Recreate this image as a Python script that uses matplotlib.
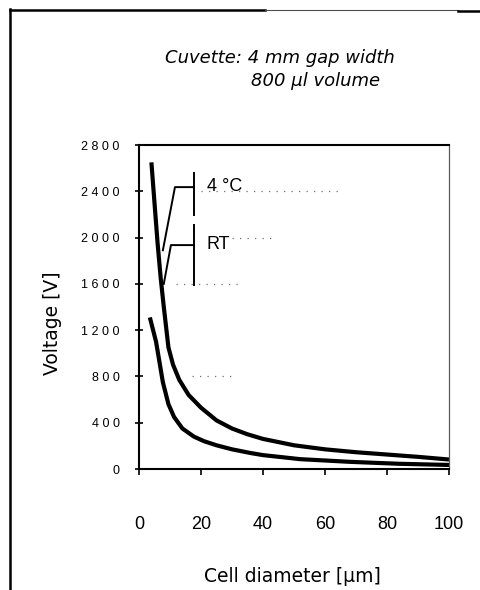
import matplotlib.pyplot as plt
from matplotlib.lines import Line2D
from matplotlib.ticker import FuncFormatter

# --- Datos ---
diam_4c = [4, 5, 6, 7, 8, 9.5, 11, 13, 16, 20, 25, 30, 35, 40, 50, 60, 70, 80, 90, 100]
volt_4c = [2650, 2300, 1950, 1650, 1400, 1050, 900, 770, 640, 530, 420, 350, 300, 260,
           205, 170, 145, 125, 105, 82]

diam_rt = [3.5, 5.5, 7.7, 9.5, 11.3, 14, 17.7, 21, 25, 30, 36, 40, 52, 68, 84, 100]
volt_rt = [1310, 1100, 750, 560, 450, 350, 280, 240, 205, 170, 138, 120, 85, 62, 45, 35]

x_ticks = [0, 20, 40, 60, 80, 100]
y_ticks = [0, 400, 800, 1200, 1600, 2000, 2400, 2800]

# etiquetas con su línea de referencia: (texto, y texto, barra y0, barra y1, codo x, codo y, punta x, punta y)
labels = [
    ("4 \u00b0C", 2440, 2195, 2560, 11.6, 2436, 7.7, 1890),
    ("RT", 1940, 1590, 2110, 10.3, 1935, 8.0, 1600),
]
bar_x = 17.7

# restos de la cuadrícula punteada del escaneo: (y, x0, x1)
dots = [(2400, 20, 65), (2000, 30, 43), (1600, 12, 33), (800, 17, 30)]

plt.rcParams['font.family'] = ['Liberation Sans', 'DejaVu Sans']
WIDE = ['DejaVu Sans']

fig = plt.figure(figsize=(4.81, 5.90), dpi=100)
ax = fig.add_axes([139 / 481, 1 - 469 / 590, 310 / 481, 324 / 590])

for y, x0, x1 in dots:
    ax.plot([x0, x1], [y, y], color='0.45', lw=0.9, ls=(0, (1, 5)))

ax.plot(diam_4c, volt_4c, color='black', lw=3.0, solid_capstyle='butt')
ax.plot(diam_rt, volt_rt, color='black', lw=3.0, solid_capstyle='butt')

for txt, ty, b0, b1, kx, ky, px, py in labels:
    ax.plot([bar_x, bar_x], [b0, b1], color='black', lw=1.4)
    ax.plot([px, kx, bar_x], [py, ky, ky], color='black', lw=1.4)
    ax.text(bar_x + 4.2, ty, txt, fontsize=13, va='center', ha='left')

ax.set_xlim(0, 100)
ax.set_ylim(0, 2800)
ax.set_xticks(x_ticks)
ax.set_yticks(y_ticks)
ax.yaxis.set_major_formatter(FuncFormatter(lambda v, p: " ".join(str(int(v)))))
ax.tick_params(axis='y', direction='inout', length=6, width=1.2, labelsize=9, pad=11)
ax.tick_params(axis='x', direction='out', length=4, width=1.2, labelsize=13, pad=30)

for side in ['left', 'bottom', 'top']:
    ax.spines[side].set_linewidth(1.5)
ax.spines['right'].set_linewidth(0.9)
ax.spines['right'].set_color('0.35')

ax.set_xlabel('Cell diameter [\u00b5m]', fontsize=13.5, family=WIDE)
ax.xaxis.label.set_va('center')
ax.xaxis.set_label_coords((292 - 139) / 310, (469 - 577) / 324)
ax.set_ylabel('Voltage [V]', fontsize=13.5, family=WIDE)
ax.yaxis.label.set_va('center')
ax.yaxis.set_label_coords((52 - 139) / 310, (469 - 323) / 324)

fig.text(280 / 481, 1 - 58 / 590, 'Cuvette: 4 mm gap width', fontsize=13, style='italic',
         family=WIDE, ha='center', va='center')
fig.text(380 / 481, 1 - 81 / 590, '800 \u00b5l volume', fontsize=13, style='italic',
         family=WIDE, ha='right', va='center')

# marco escaneado alrededor
W, H = 481, 590
fig.add_artist(Line2D([10 / W, 10 / W], [0, 1 - 9 / H], color='black', lw=1.8))
fig.add_artist(Line2D([10 / W, 265 / W], [1 - 10 / H, 1 - 10 / H], color='black', lw=1.8))
fig.add_artist(Line2D([265 / W, 458 / W], [1 - 10 / H, 1 - 10 / H], color='0.3', lw=0.8))
fig.add_artist(Line2D([458 / W, 1], [1 - 11 / H, 1 - 11 / H], color='black', lw=1.8))

fig.savefig('out.png', dpi=100)
